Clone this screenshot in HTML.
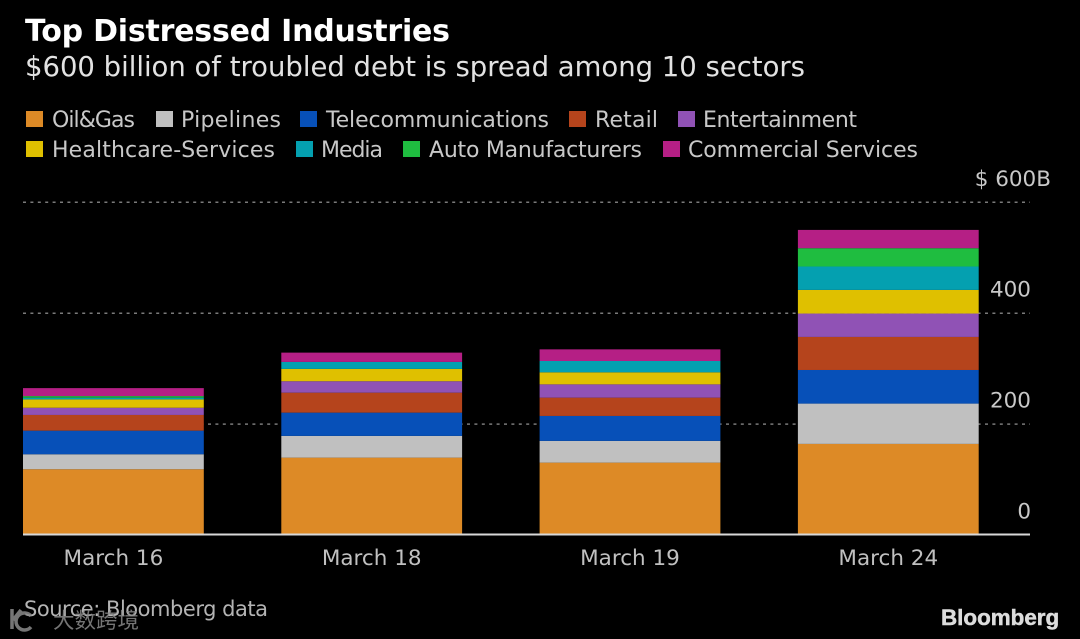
<!DOCTYPE html>
<html lang="en">
<head>
<meta charset="utf-8">
<title>Top Distressed Industries</title>
<style>
html,body{margin:0;padding:0;background:#000;width:1080px;height:639px;overflow:hidden}
svg{display:block;font-family:"DejaVu Sans","Liberation Sans",sans-serif}
.title{font-size:30px;font-weight:700;fill:#fff}
.subtitle{font-size:27.5px;fill:#e2e2e2}
.legend-text{font-size:22px;fill:#c8c8c8}
.tick{font-size:21.5px;fill:#c8c8c8}
.cat{font-size:21.5px;fill:#c0c0c0}
.source{font-size:21px;fill:#b4b4b4}
.s0{fill:#dd8a26}.s1{fill:#c0c0c0}.s2{fill:#0750b8}.s3{fill:#b5441c}.s4{fill:#9052b5}
.s5{fill:#dfc000}.s6{fill:#04a0b0}.s7{fill:#1fbd40}.s8{fill:#b51f85}
.grid{stroke:#7a7a7a;stroke-width:1.5;stroke-dasharray:3 4.4}
.axis{stroke:#d8d8d8;stroke-width:2}
</style>
</head>
<body>
<svg id="chart" xmlns="http://www.w3.org/2000/svg" width="1080" height="639" viewBox="0 0 1080 639">
  <rect width="1080" height="639" fill="#000"/>
  <text class="title" x="25" y="41" textLength="425" lengthAdjust="spacing">Top Distressed Industries</text>
  <text class="subtitle" x="25" y="76" textLength="780" lengthAdjust="spacing">$600 billion of troubled debt is spread among 10 sectors</text>

  <g>
    <g><rect class="s0" x="26" y="111" width="17" height="16"/><text class="legend-text" x="52" y="127" textLength="83" lengthAdjust="spacing">Oil&amp;Gas</text></g>
    <g><rect class="s1" x="156" y="111" width="17" height="16"/><text class="legend-text" x="181" y="127" textLength="100" lengthAdjust="spacing">Pipelines</text></g>
    <g><rect class="s2" x="300" y="111" width="17" height="16"/><text class="legend-text" x="326" y="127" textLength="223" lengthAdjust="spacing">Telecommunications</text></g>
    <g><rect class="s3" x="569" y="111" width="17" height="16"/><text class="legend-text" x="595" y="127" textLength="63" lengthAdjust="spacing">Retail</text></g>
    <g><rect class="s4" x="678" y="111" width="17" height="16"/><text class="legend-text" x="703" y="127" textLength="154" lengthAdjust="spacing">Entertainment</text></g>
    <g><rect class="s5" x="26" y="141" width="17" height="16"/><text class="legend-text" x="52" y="157" textLength="223" lengthAdjust="spacing">Healthcare-Services</text></g>
    <g><rect class="s6" x="296" y="141" width="17" height="16"/><text class="legend-text" x="321" y="157" textLength="62" lengthAdjust="spacing">Media</text></g>
    <g><rect class="s7" x="403" y="141" width="17" height="16"/><text class="legend-text" x="429" y="157" textLength="213" lengthAdjust="spacing">Auto Manufacturers</text></g>
    <g><rect class="s8" x="663" y="141" width="17" height="16"/><text class="legend-text" x="688" y="157" textLength="230" lengthAdjust="spacing">Commercial Services</text></g>
  </g>

  <g id="grid-layer"></g>
  <g id="bar-layer"></g>
  <g id="tick-layer"></g>
  <g id="cat-layer"></g>
  <line class="axis" x1="23" x2="1030" y1="534.5" y2="534.5"/>

  <text class="source" x="24" y="616" textLength="244" lengthAdjust="spacing">Source: Bloomberg data</text>
  <g opacity="0.85">
    <path d="M12 609v20M13 620l8-10M31 616a8.500 8.500 0 1 0 0 11" fill="none" stroke="#8a8a8a" stroke-width="3.5"/>
    <text x="53" y="628" font-size="21.5" fill="#8a8a8a" style="font-family:'Liberation Sans','Noto Sans CJK SC',sans-serif">大数跨境</text>
  </g>
  <text x="941" y="625" font-size="22.4" font-weight="700" fill="#dcdcdc" stroke="#dcdcdc" stroke-width="0.5" style="font-family:'Liberation Sans',sans-serif">Bloomberg</text>
</svg>
<script>
const categories = ['March 16', 'March 18', 'March 19', 'March 24'];
const seriesNames = ['oil-gas', 'pipelines', 'telecommunications', 'retail', 'entertainment', 'healthcare-services', 'media', 'auto-manufacturers', 'commercial-services'];
const oilGas = [118.6, 139.5, 130.5, 164.3];
const pipelines = [27, 39.2, 39.2, 72.7];
const telecommunications = [42.6, 42, 45, 60.6];
const retail = [28.3, 36, 33, 59.6];
const entertainment = [13, 20.6, 24, 42.2];
const healthcareServices = [15, 22.2, 21.7, 42.6];
const media = [3, 12.6, 20.4, 42.2];
const autoManufacturers = [3, 0, 0, 33];
const commercialServices = [14.4, 16.8, 21, 33];
const tickValues = [0, 200, 400, 600];
const tickLabels = ['0', '200', '400', '$ 600B'];

const allSeries = [oilGas, pipelines, telecommunications, retail, entertainment, healthcareServices, media, autoManufacturers, commercialServices];
const NS = 'http://www.w3.org/2000/svg';
const yScale = function (v) { return 535 - v * 0.5545; };
const xBand = function (i) { return 23 + i * 258.3; };
const barWidth = 180.8;

function make(tag, attrs, parent) {
  const el = document.createElementNS(NS, tag);
  Object.keys(attrs).forEach(function (k) { el.setAttribute(k, attrs[k]); });
  parent.appendChild(el);
  return el;
}

const gridLayer = document.getElementById('grid-layer');
const tickLayer = document.getElementById('tick-layer');
tickValues.forEach(function (v, i) {
  if (v !== 0) {
    const line = make('line', { class: 'grid', x1: 23, x2: 1030, y1: yScale(v), y2: yScale(v) }, gridLayer);
    
    
  }
  const label = make('text', { class: 'tick', x: 1031, y: yScale(v) - 16.5, 'text-anchor': 'end' }, tickLayer);
  
  
  label.textContent = tickLabels[i];
});
tickLayer.lastElementChild.setAttribute('x', 1051);

const barLayer = document.getElementById('bar-layer');
const catLayer = document.getElementById('cat-layer');
categories.forEach(function (cat, c) {
  let running = 0;
  allSeries.forEach(function (series, s) {
    const value = series[c];
    if (value > 0) {
      const top = yScale(running + value);
      const seg = make('rect', { class: 's' + s, x: xBand(c), y: top, width: barWidth, height: yScale(running) - top }, barLayer);
      
      
    }
    running += value;
  });
  const label = make('text', { class: 'cat', x: xBand(c) + barWidth / 2, y: 565, 'text-anchor': 'middle' }, catLayer);
  
  
  label.textContent = cat;
});
</script>
</body>
</html>
